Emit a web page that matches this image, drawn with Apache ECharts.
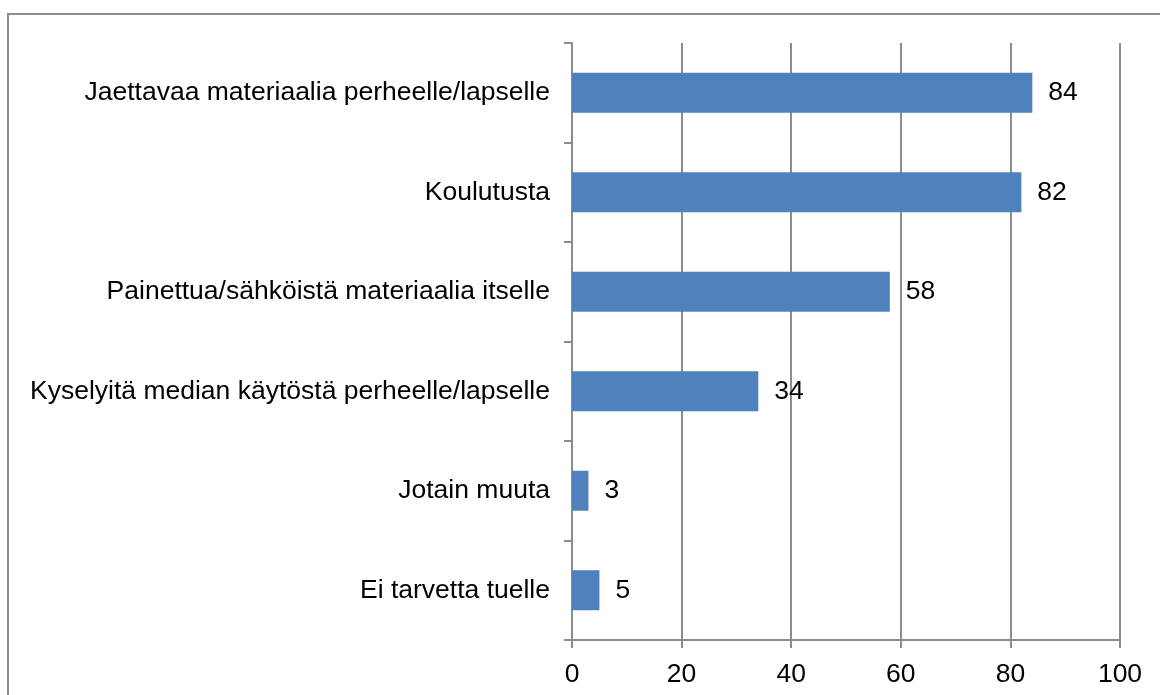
<!DOCTYPE html>
<html>
<head>
<meta charset="utf-8">
<script src="https://cdn.jsdelivr.net/npm/echarts@6/dist/echarts.min.js"></script>
<style>
  html, body { margin: 0; padding: 0; background: #fff; }
  #container { width: 1160px; height: 695px; }
</style>
</head>
<body>
<div id="container"></div>
<script>
// categories listed bottom to top (category axis starts at the bottom)
var categories = [
  'Ei tarvetta tuelle',
  'Jotain muuta',
  'Kyselyitä median käytöstä perheelle/lapselle',
  'Painettua/sähköistä materiaalia itselle',
  'Koulutusta',
  'Jaettavaa materiaalia perheelle/lapselle'
];
var values = [5, 3, 34, 58, 82, 84];

var font = 'Liberation Sans, Arial, sans-serif';
var lineColor = '#8c8c8c';

var myChart = echarts.init(document.getElementById('container'));
var option = {
  animation: false,
  backgroundColor: '#fff',
  graphic: [{
    type: 'rect',
    shape: { x: 8, y: 14, width: 1200, height: 800 },
    style: { fill: 'none', stroke: '#8c8c8c', lineWidth: 2 }
  }],
  grid: { left: 572, right: 40, top: 43, bottom: 55 },
  xAxis: {
    type: 'value',
    min: 0,
    max: 100,
    interval: 20,
    axisLine: { show: true, lineStyle: { color: lineColor, width: 2 } },
    axisTick: { show: true, length: 8, lineStyle: { color: lineColor, width: 2 } },
    splitLine: { show: true, lineStyle: { color: lineColor, width: 2 } },
    axisLabel: { color: '#000', fontFamily: font, fontSize: 26.5, margin: 21 }
  },
  yAxis: {
    type: 'category',
    data: categories,
    axisLine: { show: true, lineStyle: { color: lineColor, width: 2 } },
    axisTick: { show: true, length: 8, lineStyle: { color: lineColor, width: 2 } },
    axisLabel: { color: '#000', fontFamily: font, fontSize: 26.5, margin: 22 }
  },
  series: [{
    type: 'bar',
    data: values,
    barWidth: 40,
    itemStyle: { color: '#4f81bd' },
    label: {
      show: true,
      position: 'right',
      distance: 16,
      color: '#000',
      fontFamily: font,
      fontSize: 26.5
    }
  }]
};
myChart.setOption(option);
</script>
</body>
</html>
